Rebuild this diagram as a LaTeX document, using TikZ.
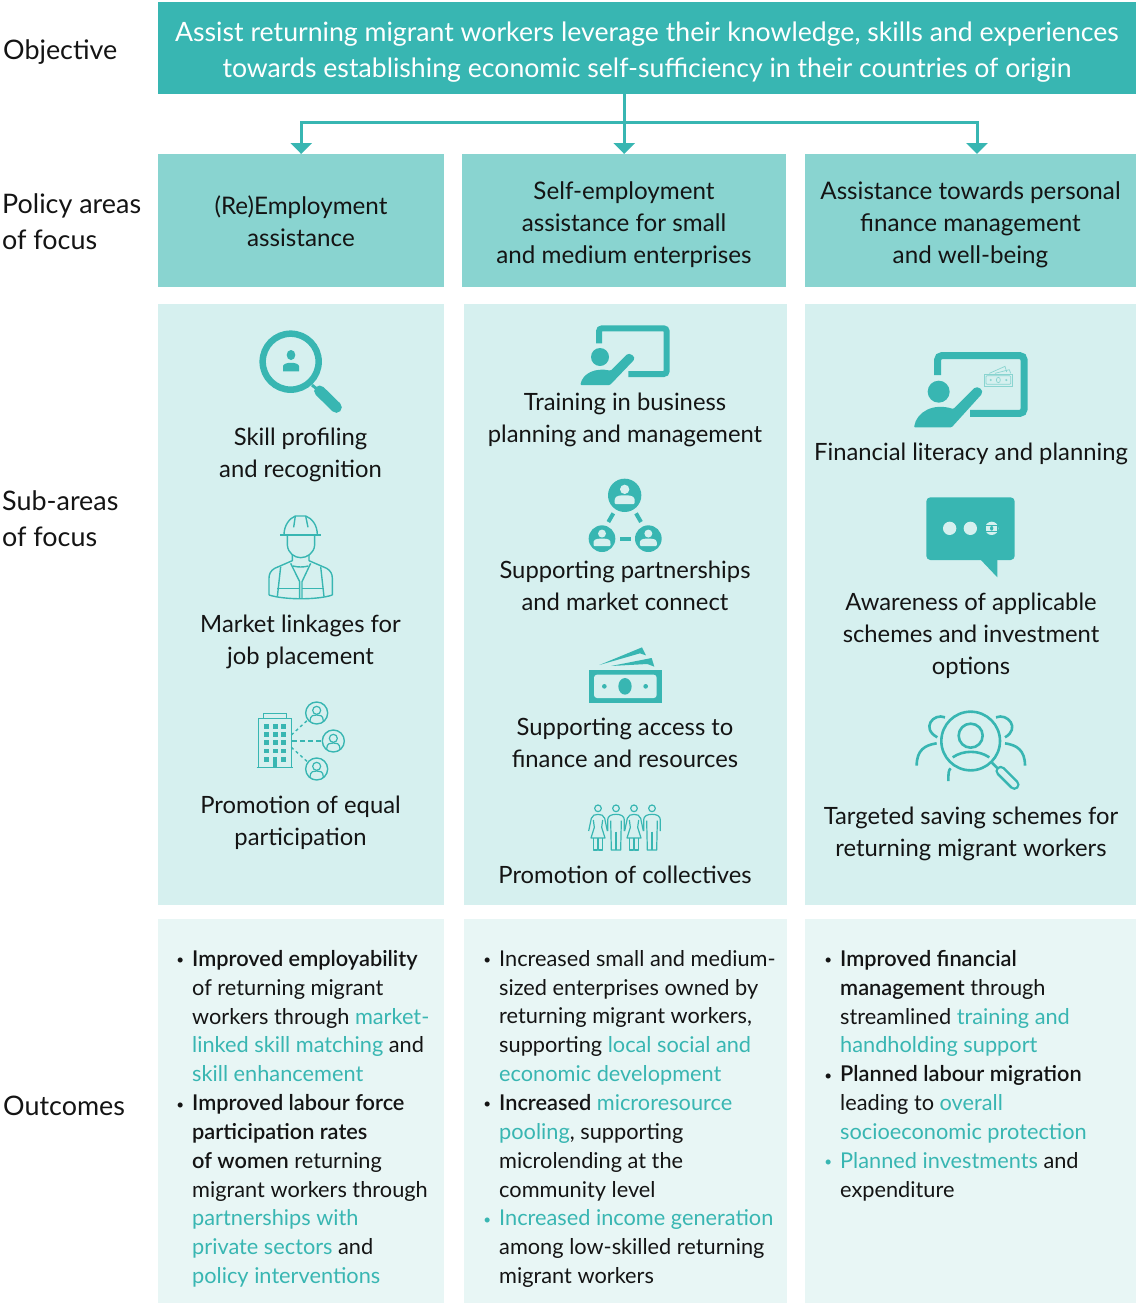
\documentclass[tikz,border=0pt]{standalone}
\usepackage{fontspec}
\setmainfont{Lato}[BoldFont={* Semibold}]
\usetikzlibrary{arrows.meta}
\definecolor{teal1}{HTML}{38B6B2}
\definecolor{teal2}{HTML}{89D4D0}
\definecolor{teal3}{HTML}{D6F0EF}
\definecolor{teal4}{HTML}{E8F6F5}
\definecolor{ink}{HTML}{141414}
\newcommand{\tl}[1]{\textcolor{teal1}{#1}}
\newcommand{\bul}{\llap{\raisebox{1.5pt}{\scalebox{0.62}{•}}\hspace{8pt}}}
\newcommand{\tbul}{\llap{\raisebox{1.5pt}{\scalebox{0.62}{\textcolor{teal1}{•}}}\hspace{8pt}}}
\tikzset{
  x=1pt,y=-1pt,
  box/.style={rectangle,inner sep=0pt,draw=none,anchor=north west},
  txt/.style={inner sep=0pt,align=center,text=ink,font=\fontsize{23.8}{32}\selectfont,
     execute at begin node=\strut,execute at end node=\strut},
  pol/.style={txt,font=\fontsize{24.2}{32}\selectfont},
  side/.style={txt,align=left,anchor=west,font=\fontsize{26.9}{36}\selectfont},
  outc/.style={inner sep=0pt,anchor=north west,align=left,text=ink,font=\fontsize{21.75}{28.85}\selectfont,
     execute at begin node=\strut,execute at end node=\strut},
  arr/.style={draw=teal1,line width=3pt,-{Triangle[length=11pt,width=21pt,fill=teal1]}},
  zoomed/.style={shift={#1},x=0.33333pt,y=-0.33333pt},
}
\begin{document}
\begin{tikzpicture}
\useasboundingbox (0,0) rectangle (1136,1304);
% boxes
\node[box,fill=teal1,minimum width=978pt,minimum height=92pt] (obj) at (158,2) {};
\node[box,fill=teal2,minimum width=286pt,minimum height=133pt] (p1) at (158,154) {};
\node[box,fill=teal2,minimum width=324pt,minimum height=133pt] (p2) at (462,154) {};
\node[box,fill=teal2,minimum width=331pt,minimum height=133pt] (p3) at (805,154) {};
\node[box,fill=teal3,minimum width=286pt,minimum height=601pt] (s1) at (158,304) {};
\node[box,fill=teal3,minimum width=323pt,minimum height=601pt] (s2) at (464,304) {};
\node[box,fill=teal3,minimum width=331pt,minimum height=601pt] (s3) at (805,304) {};
\node[box,fill=teal4,minimum width=286pt,minimum height=384pt] (o1) at (158,919) {};
\node[box,fill=teal4,minimum width=323pt,minimum height=384pt] (o2) at (464,919) {};
\node[box,fill=teal4,minimum width=331pt,minimum height=384pt] (o3) at (805,919) {};
% connectors
\coordinate (hub) at (624,122);
\coordinate (t3) at (977,154);
\draw[arr] (obj.south -| p2.north) -- (p2.north);
\draw[arr] (hub) -| (p1.north);
\draw[arr] (hub) -| (t3);
% objective text
\node[txt,text=white,font=\fontsize{26.65}{36}\selectfont] (objt) at (647,55) {Assist returning migrant workers leverage their knowledge, skills and experiences\\towards establishing economic self-sufficiency in their countries of origin};
% side labels
\node[side] (l1) at (3,52) {Objective};
\node[side] (l2) at (2,227) {Policy areas\\of focus};
\node[side] (l3) at (2,524) {Sub-areas\\of focus};
\node[side] (l4) at (3,1108) {Outcomes};
% policy
\node[pol] (pt1) at (301,226) {(Re)Employment\\assistance};
\node[pol] (pt2) at (624,227) {Self-employment\\assistance for small\\and medium enterprises};
\node[pol] (pt3) at (970.5,227) {Assistance towards personal\\finance management\\and well-being};
% sub-area captions
\node[txt] (c11) at (300.5,458) {Skill profiling\\and recognition};
\node[txt] (c12) at (300.5,645) {Market linkages for\\job placement};
\node[txt] (c13) at (300.5,826) {Promotion of equal\\participation};
\node[txt] (c21) at (625,423) {Training in business\\planning and management};
\node[txt] (c22) at (625,591) {Supporting partnerships\\and market connect};
\node[txt] (c23) at (625,748) {Supporting access to\\finance and resources};
\node[txt] (c24) at (625,877) {Promotion of collectives};
\node[txt] (c31) at (971,454) {Financial literacy and planning};
\node[txt] (c32) at (971,639) {Awareness of applicable\\schemes and investment\\options};
\node[txt] (c33) at (971,837) {Targeted saving schemes for\\returning migrant workers};
% outcomes
\node[outc] (ot1) at (192,950) {\bul\textbf{Improved employability}\\of returning migrant\\workers through \tl{market-}\\\tl{linked skill matching} and\\\tl{skill enhancement}\\\bul\textbf{Improved labour force}\\\textbf{participation rates}\\\textbf{of women} returning\\migrant workers through\\\tl{partnerships with}\\\tl{private sectors} and\\\tl{policy interventions}};
\node[outc] (ot2) at (499,950) {\bul Increased small and medium-\\sized enterprises owned by\\returning migrant workers,\\supporting \tl{local social and}\\\tl{economic development}\\\bul\textbf{Increased} \tl{microresource}\\\tl{pooling}, supporting\\microlending at the\\community level\\\tbul\tl{Increased income generation}\\among low-skilled returning\\migrant workers};
\node[outc] (ot3) at (840,950) {\bul\textbf{Improved financial}\\\textbf{management} through\\streamlined \tl{training and}\\\tl{handholding support}\\\bul\textbf{Planned labour migration}\\leading to \tl{overall}\\\tl{socioeconomic protection}\\\tbul\tl{Planned investments} and\\expenditure};
% --- icon: magnifier
\begin{scope}[zoomed={(158,310)}]
\draw[teal1,line width=6.5pt] (398,155) circle (84);
\draw[teal1,line width=3pt] (462,225) -- (480,240);
\draw[teal1,line width=11pt,line cap=round] (485,243) -- (535,292);
\fill[teal1] (399,135) ellipse (13 and 15);
\fill[teal1] (375,184) -- (375,168) .. controls (378,155) and (420,155) .. (423,168) -- (423,184) -- cycle;
% worker
\begin{scope}[teal1,line width=1.4pt,line join=round]
\draw (378,675) .. controls (378,645) and (395,625) .. (412,618) -- (443,618) .. controls (462,625) and (478,645) .. (478,675);
\draw (366,675) -- (490,675);
\draw (412,618) -- (407,652); \draw (443,618) -- (450,652);
\draw (388,678) -- (388,705) .. controls (390,730) and (410,743) .. (428,743) .. controls (447,743) and (468,730) .. (470,705) -- (470,678);
\draw (403,735) -- (403,752) -- (350,775) .. controls (338,782) and (333,792) .. (333,805) -- (333,855);
\draw (453,735) -- (453,752) -- (506,775) .. controls (518,782) and (523,792) .. (523,805) -- (523,855);
\draw (333,855) .. controls (380,870) and (480,870) .. (523,855);
\draw (398,760) -- (425,815) -- (425,865); \draw (458,760) -- (432,815) -- (432,865);
\draw (368,770) -- (358,860); \draw (488,770) -- (498,860);
\draw (358,835) -- (425,835); \draw (432,835) -- (498,835);
\draw (405,768) .. controls (420,772) and (436,772) .. (451,768);
\end{scope}
% building
\begin{scope}[teal1,line width=1.2pt]
\draw (302,1373) -- (302,1225) -- (400,1225) -- (400,1373);
\draw (316,1225) -- (316,1210) -- (386,1210) -- (386,1225);
\draw[line width=1.6pt] (296,1373) -- (406,1373);
\foreach \xx in {318,345,369}{\foreach \yy in {1243,1267,1290,1316}{\fill (\xx,\yy) rectangle ++(15,14);}}
\fill (318,1341) rectangle ++(15,14); \fill (369,1341) rectangle ++(15,14);
\fill (345,1341) rectangle (357,1373);
\foreach \cx/\cy in {476/1209,526/1293,476/1377}{
  \draw[line width=1.4pt] (\cx,\cy) circle (33);
  \draw (\cx,\cy-8) circle (12);
  \draw (\cx-20,\cy+24) .. controls (\cx-20,\cy+6) and (\cx-8,\cy+6) .. (\cx,\cy+6) .. controls (\cx+8,\cy+6) and (\cx+20,\cy+6) .. (\cx+20,\cy+24);
}
\draw[line width=1.4pt,dash pattern=on 3pt off 3pt] (400,1275) -- (447,1232);
\draw[line width=2.2pt,dash pattern=on 5pt off 3pt] (402,1293) -- (492,1293);
\draw[line width=1.4pt,dash pattern=on 3pt off 3pt] (400,1312) -- (447,1354);
\end{scope}
\end{scope}
% --- icon: training
\begin{scope}[zoomed={(540,310)}]
\draw[teal1,line width=6pt,rounded corners=3pt] (177,100) -- (177,55) -- (380,55) -- (380,192) -- (265,192);
\fill[teal1] (180,141) circle (27);
\fill[teal1,rounded corners=1pt] (121,225) .. controls (128,190) and (165,172) .. (212,182) -- (258,136) .. controls (268,126) and (290,140) .. (279,153) -- (210,225) -- cycle;
% network
\fill[teal1] (254,556) circle (50);
\fill[teal1] (186,686) circle (40);
\fill[teal1] (325,686) circle (40);
\foreach \cx/\cy/\ss in {254/556/1,186/686/0.85,325/686/0.85}{
  \fill[teal3] (\cx,\cy-18*\ss) circle ({14*\ss});
  \fill[teal3,rounded corners=1pt] (\cx-30*\ss,\cy+26*\ss) -- (\cx-30*\ss,\cy+14*\ss) .. controls (\cx-28*\ss,\cy) and (\cx-10*\ss,\cy) .. (\cx,\cy) .. controls (\cx+10*\ss,\cy) and (\cx+28*\ss,\cy) .. (\cx+30*\ss,\cy+14*\ss) -- (\cx+30*\ss,\cy+26*\ss) -- cycle;
}
\draw[teal1,line width=4pt] (220,610) -- (205,636);
\draw[teal1,line width=4pt] (288,610) -- (303,636);
\draw[teal1,line width=4pt] (240,687) -- (272,687);
\end{scope}
% --- icon: money and collectives
\begin{scope}[zoomed={(560,630)}]
\fill[teal1] (86,119) rectangle (305,218);
\fill[teal3,rounded corners=3pt] (102,134) rectangle (290,204);
\fill[teal1] (195,169) ellipse (20 and 25);
\fill[teal1] (133,169) circle (7);
\fill[teal1] (257,169) circle (7);
\fill[teal1] (118,105) -- (246,52) -- (258,76) -- (240,70) -- cycle;
\fill[teal1] (153,108) -- (275,84) -- (283,110) -- (262,102) -- cycle;
\begin{scope}[teal1,line width=1.2pt,line join=round]
\foreach \cx in {114,222}{
  \draw (\cx,535) circle (10);
  \draw (\cx-28,603) -- (\cx-20,565) .. controls (\cx-17,556) and (\cx-10,553) .. (\cx,553) .. controls (\cx+10,553) and (\cx+17,556) .. (\cx+20,565) -- (\cx+28,603);
  \draw (\cx-14,570) -- (\cx-11,592) -- (\cx-21,624) -- (\cx+21,624) -- (\cx+11,592) -- (\cx+14,570);
  \draw (\cx-13,624) -- (\cx-13,660) -- (\cx-2,660) -- (\cx-2,624);
  \draw (\cx+2,624) -- (\cx+2,660) -- (\cx+13,660) -- (\cx+13,624);
}
\foreach \cx in {168,276}{
  \draw (\cx,535) circle (10);
  \draw (\cx-25,603) -- (\cx-25,570) .. controls (\cx-25,558) and (\cx-15,553) .. (\cx,553) .. controls (\cx+15,553) and (\cx+25,558) .. (\cx+25,570) -- (\cx+25,603);
  \draw (\cx-16,572) -- (\cx-14,660) -- (\cx+14,660) -- (\cx+16,572);
  \draw (\cx,605) -- (\cx,660);
}
\end{scope}
\end{scope}
% --- icon: finance
\begin{scope}[zoomed={(890,340)}]
\draw[teal1,line width=7pt,rounded corners=4pt] (143,105) -- (143,47) -- (402,47) -- (402,220) -- (240,220);
\fill[teal1] (146,155) circle (33);
\fill[teal1,rounded corners=1pt] (72,262) .. controls (80,215) and (130,188) .. (190,207) -- (250,147) .. controls (262,135) and (285,150) .. (272,166) -- (185,262) -- cycle;
\begin{scope}[draw=teal2,line width=0.7pt]
\draw (283,102) rectangle (367,138);
\draw[rounded corners=1pt] (288,107) rectangle (362,133);
\draw (325,120) ellipse (6 and 8);
\draw (302,120) circle (2); \draw (349,120) circle (2);
\draw (298,100) -- (345,79) -- (350,96);
\draw (315,100) -- (358,89) -- (362,100);
\end{scope}
% bubble
\fill[teal1,rounded corners=4pt] (109,472) rectangle (374,660);
\fill[teal1] (268,655) -- (322,712) -- (322,655) -- cycle;
\fill[teal3] (179,565) circle (20);
\fill[teal3] (241,565) circle (20);
\fill[teal3] (305,565) circle (20);
\draw[teal1,line width=0.6pt] (287,557) rectangle (323,573);
\fill[teal1] (305,565) ellipse (5 and 7);
\end{scope}
% targeted saving
\begin{scope}[zoomed={(900,700)}]
\begin{scope}[teal1,line width=2.6pt]
\draw (212,123) circle (88);
\draw (212,107) circle (36);
\draw (158,172) .. controls (190,150) and (235,150) .. (268,172);
\draw (135,52) .. controls (100,38) and (62,85) .. (112,112);
\draw (288,52) .. controls (323,38) and (362,85) .. (315,112);
\draw (110,130) .. controls (75,135) and (50,150) .. (50,197);
\draw (315,130) .. controls (350,135) and (375,150) .. (375,197);
\draw (152,205) .. controls (146,210) and (145,218) .. (145,243);
\draw (276,188) -- (292,204);
\draw[line width=10.5pt,line cap=round] (302,213) -- (343,254);
\draw[teal3,line width=5.5pt,line cap=round] (302,213) -- (343,254);
\end{scope}
\end{scope}
\end{tikzpicture}
\end{document}
